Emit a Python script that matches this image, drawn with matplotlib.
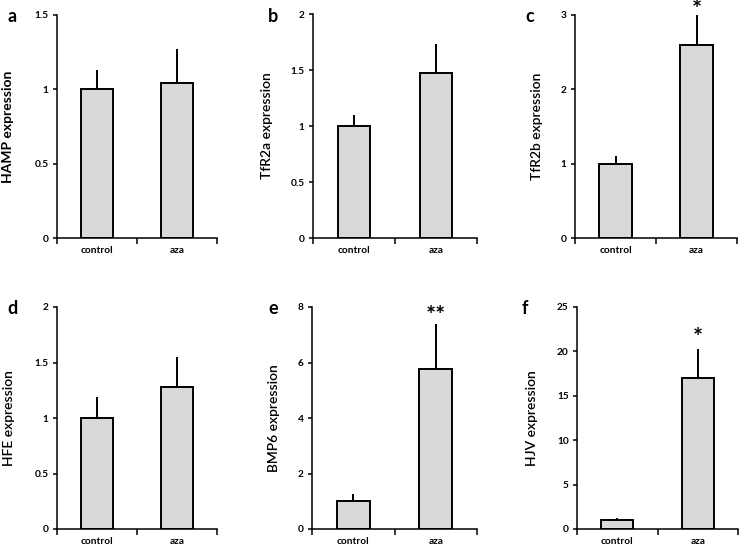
import matplotlib.pyplot as plt
import numpy as np

groups = ["control", "aza"]
genes = ["HAMP", "TfR2a", "TfR2b", "HFE", "BMP6", "HJV"]
letters = ["a", "b", "c", "d", "e", "f"]
means = [[1.0, 1.04], [1.0, 1.47], [1.0, 2.6], [1.0, 1.28], [1.0, 5.75], [1.0, 17.0]]
errs = [[0.13, 0.23], [0.095, 0.26], [0.1, 0.4], [0.19, 0.27], [0.25, 1.62], [0.2, 3.25]]
ymax = [1.5, 2, 3, 2, 8, 25]
ysteps = [0.5, 0.5, 1, 0.5, 2, 5]
stars = ["", "", "*", "", "**", "*"]
star_y = [0, 0, 3.06, 0, 7.65, 21.5]

plt.rcParams['font.family'] = ['Lato', 'DejaVu Sans']

fig = plt.figure(figsize=(7.4, 5.47), dpi=100)
W, H = 740, 547
# axes boxes in pixels: left, right, top, bottom
boxes = [(57, 217, 15, 238), (313, 477, 14, 238), (575, 737, 15, 238),
         (57, 217, 307, 529), (312, 477, 307, 529), (577, 738, 307, 529)]
label_x = [8, 267, 537, 9, 274, 532]
letter_xy = [(7, 17), (268, 16), (525, 17), (7, 309), (268, 309), (522, 308)]

x = np.arange(len(groups))
for i in range(6):
    l, r, t, b = boxes[i]
    ax = fig.add_axes([l / W, (H - b) / H, (r - l) / W, (b - t) / H])
    ax.bar(x, means[i], width=0.4, color="#d9d9d9", edgecolor="black", linewidth=1.4, zorder=2)
    ax.errorbar(x, means[i], yerr=[[0, 0], errs[i]], fmt="none", ecolor="black",
                elinewidth=1.4, capsize=0, zorder=1)
    ax.set_xlim(-0.5, 1.5)
    ax.set_ylim(0, ymax[i])
    ticks = np.arange(0, ymax[i] + ysteps[i] / 2, ysteps[i])
    ax.set_yticks(ticks)
    ax.set_yticklabels([f"{v:g}" for v in ticks], fontsize=7.3, fontweight="bold")
    ax.set_xticks(x)
    ax.set_xticklabels(groups, fontsize=7.3, fontweight="bold")
    ax.tick_params(axis="x", which="major", length=0, pad=6)
    ax.set_xticks([-0.5, 0.5, 1.5], minor=True)
    ax.tick_params(axis="x", which="minor", length=4, width=1.1, direction="out")
    ax.tick_params(axis="y", length=3, width=1.1, direction="out", pad=3)
    for s in ["top", "right"]:
        ax.spines[s].set_visible(False)
    for s in ["left", "bottom"]:
        ax.spines[s].set_linewidth(1.1)
    fig.text(label_x[i] / W, (H - (t + b) / 2) / H, genes[i] + " expression",
             rotation=90, ha="center", va="center", fontsize=10,
             fontweight="bold" if i == 0 else "semibold")
    fig.text(letter_xy[i][0] / W, (H - letter_xy[i][1]) / H, letters[i],
             ha="left", va="center", fontsize=13, fontweight="bold")
    if stars[i]:
        ax.text(1, star_y[i], stars[i], ha="center", va="center", fontsize=17,
                fontweight="bold", clip_on=False)

fig.savefig("out.png", dpi=100)
